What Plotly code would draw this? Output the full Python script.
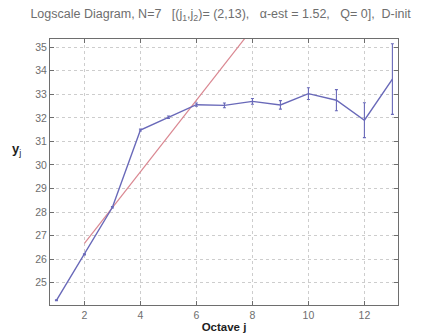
import plotly.graph_objects as go

# Data
octaves = [1, 2, 3, 4, 5, 6, 7, 8, 9, 10, 11, 12, 13]
yj = [24.25, 26.2, 28.2, 31.48, 32.03, 32.56, 32.53, 32.7, 32.55, 33.03, 32.75, 31.9, 33.65]
yj_err = [0.02, 0.02, 0.03, 0.04, 0.05, 0.07, 0.1, 0.12, 0.18, 0.25, 0.45, 0.74, 1.5]

# Regression fit over (j1, j2) = (2, 13)
fit_j = [2, 13]
fit_slope = 1.52
fit_intercept = 23.63  # value at j = 0

fit_y = [fit_intercept + fit_slope * j for j in fit_j]

x_ticks = [2, 4, 6, 8, 10, 12]
y_ticks = [25, 26, 27, 28, 29, 30, 31, 32, 33, 34, 35]

blue = "rgb(105,105,185)"
red = "rgb(218,135,145)"
axis_gray = "rgb(110,110,110)"
text_gray = "rgb(110,110,110)"

fig = go.Figure()
fig.add_trace(go.Scatter(
    x=fit_j, y=fit_y, mode="lines",
    line=dict(color=red, width=1.2), hoverinfo="skip", showlegend=False,
))
fig.add_trace(go.Scatter(
    x=octaves, y=yj, mode="lines",
    line=dict(color=blue, width=1.4),
    error_y=dict(type="data", array=yj_err, visible=True, color=blue, thickness=1.1, width=1.5),
    showlegend=False,
))

fig.update_layout(
    width=421, height=336,
    margin=dict(l=42, r=31, t=31, b=39),
    paper_bgcolor="white", plot_bgcolor="white",
    font=dict(family="Liberation Sans, Arial, sans-serif", color=text_gray, size=10),
    title=dict(
        text="Logscale Diagram, N=7   [(j<sub>1</sub>,j<sub>2</sub>)= (2,13),   α-est = 1.52,   Q= 0],  D-init",
        x=0.505, xanchor="center", y=0.982, yanchor="middle",
        font=dict(size=12.5, color=text_gray, family="Liberation Sans, Arial, sans-serif"),
    ),
    xaxis=dict(
        range=[0.77, 13.2], tickvals=x_ticks, ticks="inside", ticklen=4,
        tickcolor=axis_gray, showline=True, linecolor=axis_gray, linewidth=1,
        mirror="ticks", showgrid=True, gridcolor="rgb(205,205,205)", griddash="dot",
        gridwidth=1, zeroline=False, tickfont=dict(size=10.5, color=text_gray),
        title=dict(text="<b>Octave j</b>", font=dict(size=11.5, color="rgb(30,30,30)"), standoff=3),
    ),
    yaxis=dict(
        range=[24.05, 35.35], tickvals=y_ticks, ticks="inside", ticklen=4,
        tickcolor=axis_gray, showline=True, linecolor=axis_gray, linewidth=1,
        mirror="ticks", showgrid=True, gridcolor="rgb(205,205,205)", griddash="dot",
        gridwidth=1, zeroline=False, tickfont=dict(size=10.5, color=text_gray),
    ),
)
fig.add_annotation(
    text="<b>y</b><sub>j</sub>", xref="paper", yref="paper", x=-0.095, y=0.585,
    showarrow=False, font=dict(size=13, color="rgb(30,30,30)"),
    xanchor="center", yanchor="middle",
)

fig.write_html("out.html")
